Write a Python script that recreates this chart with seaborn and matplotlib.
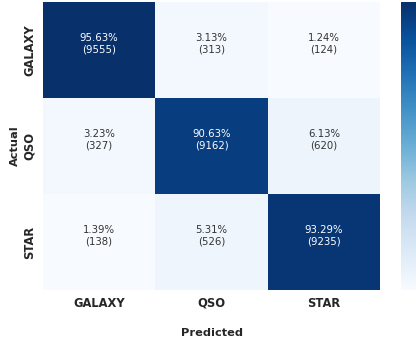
import numpy as np
import pandas as pd
import seaborn as sns
import matplotlib
matplotlib.use("Agg")
import matplotlib.pyplot as plt
from matplotlib.colors import to_rgb
import matplotlib.transforms as mtransforms

classes = ["GALAXY", "QSO", "STAR"]
percent = [
    [95.63, 3.13, 1.24],
    [3.23, 90.63, 6.13],
    [1.39, 5.31, 93.29],
]
counts = [
    [9555, 313, 124],
    [327, 9162, 620],
    [138, 526, 9235],
]

sns.set_style("white")
plt.rcParams["font.family"] = ["DejaVu Sans"]

pct_df = pd.DataFrame(percent, index=classes, columns=classes)

W, H = 416, 345
fig = plt.figure(figsize=(W / 100, H / 100), dpi=100)
ax = fig.add_axes([43 / W, (H - 290) / H, 337 / W, 288 / H])
cax = fig.add_axes([401 / W, (H - 290) / H, 17 / W, 288 / H])

sns.heatmap(pct_df, annot=False, cmap="Blues", ax=ax, cbar_ax=cax)

# cell annotations: percentage over raw count, white on dark cells
cmap = plt.get_cmap("Blues")
vmin, vmax = np.min(percent), np.max(percent)
lift = mtransforms.ScaledTranslation(0, 4.5 / 72, fig.dpi_scale_trans)
for i, (prow, crow) in enumerate(zip(percent, counts)):
    for j, (p, c) in enumerate(zip(prow, crow)):
        r, g, b = to_rgb(cmap((p - vmin) / (vmax - vmin)))
        lum = 0.2126 * r + 0.7152 * g + 0.0722 * b
        color = "white" if lum < 0.408 else "#333333"
        ax.text(j + 0.5, i + 0.5, f"{p:.2f}%\n({c})", ha="center", va="center",
                fontsize=7.3, color=color, transform=ax.transData + lift)

ax.set_xlabel("Predicted", fontsize=8.2, fontweight="bold", labelpad=13)
ax.set_ylabel("Actual", fontsize=8.2, fontweight="bold", labelpad=2)
ax.tick_params(axis="both", length=0, pad=5)
for t in ax.get_xticklabels():
    t.set_fontweight("bold")
    t.set_fontsize(8.3)
for t in ax.get_yticklabels():
    t.set_fontweight("bold")
    t.set_fontsize(8.3)
    t.set_rotation(90)
    t.set_va("center")

cax.tick_params(length=3, width=0.6, colors="#555555", labelright=False)

fig.savefig("out.png", dpi=100)
